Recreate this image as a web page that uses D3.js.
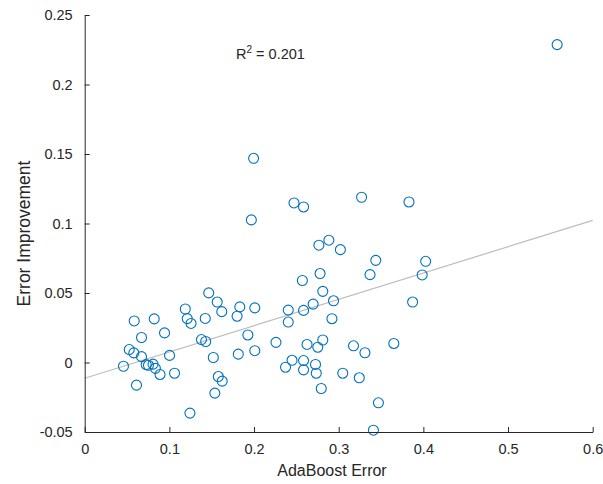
<!DOCTYPE html>
<html>
<head>
<meta charset="utf-8">
<script src="https://cdn.jsdelivr.net/npm/d3@7"></script>
<style>
  html, body { margin: 0; padding: 0; background: #fff; }
  svg text { font-family: "Liberation Sans", Arial, Helvetica, sans-serif; fill: #262626; }
</style>
</head>
<body>
<svg id="chart" width="603" height="484"></svg>
<script>
// AdaBoost error (x) and error improvement (y) for each dataset
const adaboostError = [
  0.558, 0.1995, 0.1968, 0.2472, 0.2585, 0.327, 0.383, 0.2766, 0.2884, 0.302,
  0.3438, 0.4027, 0.337, 0.3986, 0.278, 0.2571, 0.2812, 0.2939, 0.3873, 0.2698,
  0.2585, 0.2404, 0.2404, 0.292, 0.1465, 0.1565, 0.1619, 0.1832, 0.18, 0.2009,
  0.1188, 0.1211, 0.1256, 0.1424, 0.0821, 0.0585, 0.0943, 0.0671, 0.1927, 0.1379,
  0.1429, 0.2259, 0.2626, 0.2812, 0.2753, 0.3175, 0.331, 0.3651, 0.0526, 0.058,
  0.0671, 0.1002, 0.1519, 0.1814, 0.2009, 0.2449, 0.2585, 0.0458, 0.0726, 0.0753,
  0.0807, 0.0835, 0.0890, 0.1061, 0.2372, 0.2585, 0.2726, 0.2735, 0.3048, 0.3243,
  0.1578, 0.1624, 0.0612, 0.1537, 0.2794, 0.3469, 0.1243, 0.341
];
const errorImprovement = [
  0.2287, 0.1469, 0.1026, 0.1148, 0.1119, 0.1189, 0.1155, 0.0844, 0.088, 0.0812,
  0.0735, 0.0728, 0.0632, 0.063, 0.064, 0.059, 0.0512, 0.0444, 0.0435, 0.042,
  0.0375, 0.0377, 0.0291, 0.0315, 0.0501, 0.0435, 0.0366, 0.04, 0.0333, 0.0393,
  0.0385, 0.0316, 0.0281, 0.0317, 0.0314, 0.0299, 0.0213, 0.018, 0.0198, 0.0165,
  0.0151, 0.0145, 0.013, 0.0162, 0.011, 0.012, 0.007, 0.0137, 0.0093, 0.0069,
  0.0042, 0.0051, 0.0036, 0.006, 0.0085, 0.0016, 0.0014, -0.0027, -0.0015, -0.002,
  -0.0012, -0.0042, -0.0086, -0.0077, -0.0034, -0.0053, -0.0014, -0.0077, -0.0077, -0.011,
  -0.0101, -0.0134, -0.0163, -0.022, -0.0187, -0.029, -0.0364, -0.0487
];
// Least-squares trend line endpoints (x, y)
const fitX = [0, 0.6];
const fitY = [-0.0113, 0.1022];
const rSquaredText = "0.201";

const xTicks = [0, 0.1, 0.2, 0.3, 0.4, 0.5, 0.6];
const yTicks = [-0.05, 0, 0.05, 0.1, 0.15, 0.2, 0.25];
const xTitle = "AdaBoost Error";
const yTitle = "Error Improvement";

const svg = d3.select("#chart");
const mLeft = 84.7, mRight = 592.7, mTop = 15, mBottom = 432;
const x = d3.scaleLinear().domain([0, 0.6]).range([mLeft, mRight]);
const y = d3.scaleLinear().domain([-0.05, 0.25]).range([mBottom, mTop]);
const axisColor = "#262626";
const fmt = d => (d === 0 ? "0" : String(+d.toFixed(2)));

// trend line
svg.append("line")
  .attr("x1", x(fitX[0])).attr("y1", y(fitY[0]))
  .attr("x2", x(fitX[1])).attr("y2", y(fitY[1]))
  .attr("stroke", "#bdbdbd").attr("stroke-width", 1.2);

// points
svg.append("g").selectAll("circle")
  .data(adaboostError.map((v, i) => [v, errorImprovement[i]]))
  .join("circle")
  .attr("cx", d => x(d[0])).attr("cy", d => y(d[1]))
  .attr("r", 5)
  .attr("fill", "none").attr("stroke", "#0072BD").attr("stroke-width", 1.1);

// axes
const xAxis = svg.append("g").attr("transform", `translate(0,${mBottom})`)
  .call(d3.axisBottom(x).tickValues(xTicks).tickFormat(fmt).tickSizeInner(-5).tickSizeOuter(0).tickPadding(12));
const yAxis = svg.append("g").attr("transform", `translate(${mLeft},0)`)
  .call(d3.axisLeft(y).tickValues(yTicks).tickFormat(fmt).tickSizeInner(-5).tickSizeOuter(0).tickPadding(12));
[xAxis, yAxis].forEach(g => {
  g.select(".domain").attr("stroke", axisColor).attr("stroke-width", 1);
  g.selectAll(".tick line").attr("stroke", axisColor).attr("stroke-width", 1);
  g.selectAll(".tick text").attr("fill", axisColor)
    .style("font-family", '"Liberation Sans", Arial, sans-serif').style("font-size", "14.5px");
});
xAxis.selectAll(".tick text").attr("dy", "0.71em").attr("y", 12);
yAxis.selectAll(".tick text").attr("x", -12);

// titles
svg.append("text").attr("x", 332).attr("y", 476).attr("text-anchor", "middle")
  .style("font-size", "16px").text(xTitle);
svg.append("text").attr("transform", "translate(30,233.5) rotate(-90)").attr("text-anchor", "middle")
  .style("font-size", "17.5px").text(yTitle);

// R^2 annotation
const r2 = svg.append("text").attr("x", 236).attr("y", 59).style("font-size", "14.5px");
r2.append("tspan").text("R");
r2.append("tspan").attr("dy", -6).style("font-size", "10px").text("2");
r2.append("tspan").attr("dy", 6).text(" = " + rSquaredText);
</script>
</body>
</html>
